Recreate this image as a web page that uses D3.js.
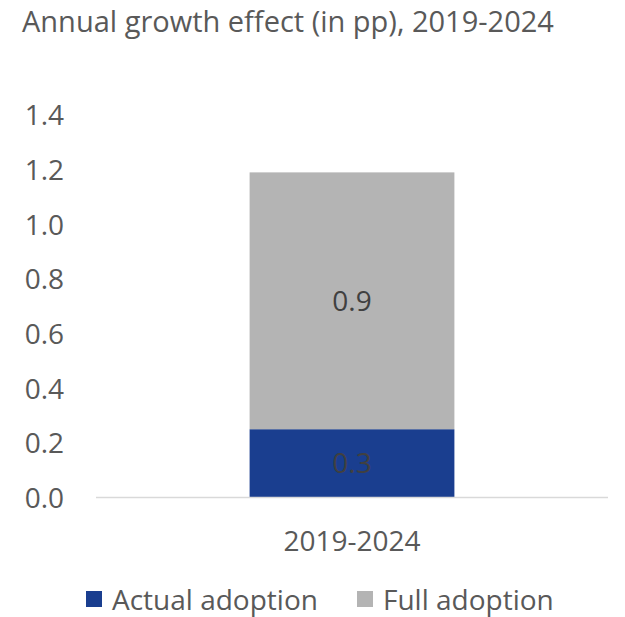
<!DOCTYPE html>
<html><head><meta charset="utf-8">
<script src="https://cdn.jsdelivr.net/npm/d3@7"></script>
<style>body{margin:0;background:#fff}svg{display:block}text{font-family:"Open Sans",sans-serif}</style>
</head><body><svg id="c" width="625" height="617"></svg>
<script>
const title = "Annual growth effect (in pp), 2019-2024";
const categories = ["2019-2024"];
const seriesNames = ["Actual adoption", "Full adoption"];
const actualAdoption = [0.25];
const fullAdoption = [0.94];
const yTicks = [0, 0.2, 0.4, 0.6, 0.8, 1.0, 1.2, 1.4];
const colors = ["#1A3E8F", "#B4B4B4"];

(function () {
const svg = d3.select("#c");
const textColor = "#595959";
const fs = 28;
const plotLeft = 96, plotRight = 608, plotTop = 115, plotBottom = 497.5;

const rows = categories.map((c, i) => ({cat: c, "Actual adoption": actualAdoption[i], "Full adoption": fullAdoption[i]}));
const stacked = d3.stack().keys(seriesNames)(rows);

const x = d3.scaleBand().domain(categories).range([plotLeft, plotRight]).paddingInner(0.6).paddingOuter(0.3);
const y = d3.scaleLinear().domain([0, 1.4]).range([plotBottom, plotTop]);

svg.append("text").attr("x", 22).attr("y", 32).attr("font-size", 29).attr("fill", textColor).text(title);

const yAxis = d3.axisLeft(y).tickValues(yTicks).tickFormat(d3.format(".1f")).tickSize(0).tickPadding(0);
const gy = svg.append("g").attr("transform", `translate(64,0)`).call(yAxis);
gy.select(".domain").remove();
gy.selectAll("text").attr("font-size", fs).attr("fill", textColor).attr("font-family", '"Open Sans",sans-serif').attr("dy", "0.35em");

svg.append("g").selectAll("g").data(stacked).join("g").attr("fill", (d, i) => colors[i])
  .selectAll("rect").data(d => d).join("rect")
  .attr("x", d => x(d.data.cat)).attr("width", x.bandwidth())
  .attr("y", d => y(d[1])).attr("height", d => y(d[0]) - y(d[1]));

svg.append("line").attr("x1", plotLeft).attr("x2", plotRight).attr("y1", y(0)).attr("y2", y(0)).attr("stroke", "#D9D9D9").attr("stroke-width", 1.5);

svg.append("g").selectAll("g").data(stacked).join("g")
  .selectAll("text").data(d => d).join("text")
  .attr("x", d => x(d.data.cat) + x.bandwidth() / 2)
  .attr("y", d => y((d[0] + d[1]) / 2))
  .attr("dy", "0.35em").attr("text-anchor", "middle").attr("font-size", fs).attr("fill", "#404040")
  .text(d => d3.format(".1f")(d[1] - d[0]));

const xAxis = d3.axisBottom(x).tickSize(0).tickPadding(0);
const gx = svg.append("g").attr("transform", `translate(0,${y(0) + 44})`).call(xAxis);
gx.select(".domain").remove();
gx.selectAll("text").attr("font-size", fs).attr("fill", textColor).attr("font-family", '"Open Sans",sans-serif').attr("dy", "0.35em");

const legendX = [86, 357];
const lg = svg.append("g").selectAll("g").data(seriesNames).join("g")
  .attr("transform", (d, i) => `translate(${legendX[i]},591)`);
lg.append("rect").attr("width", 16).attr("height", 16).attr("fill", (d, i) => colors[i]);
lg.append("text").attr("x", 26).attr("y", 9).attr("dy", "0.35em").attr("font-size", fs).attr("fill", textColor).text(d => d);
})();
</script></body></html>
